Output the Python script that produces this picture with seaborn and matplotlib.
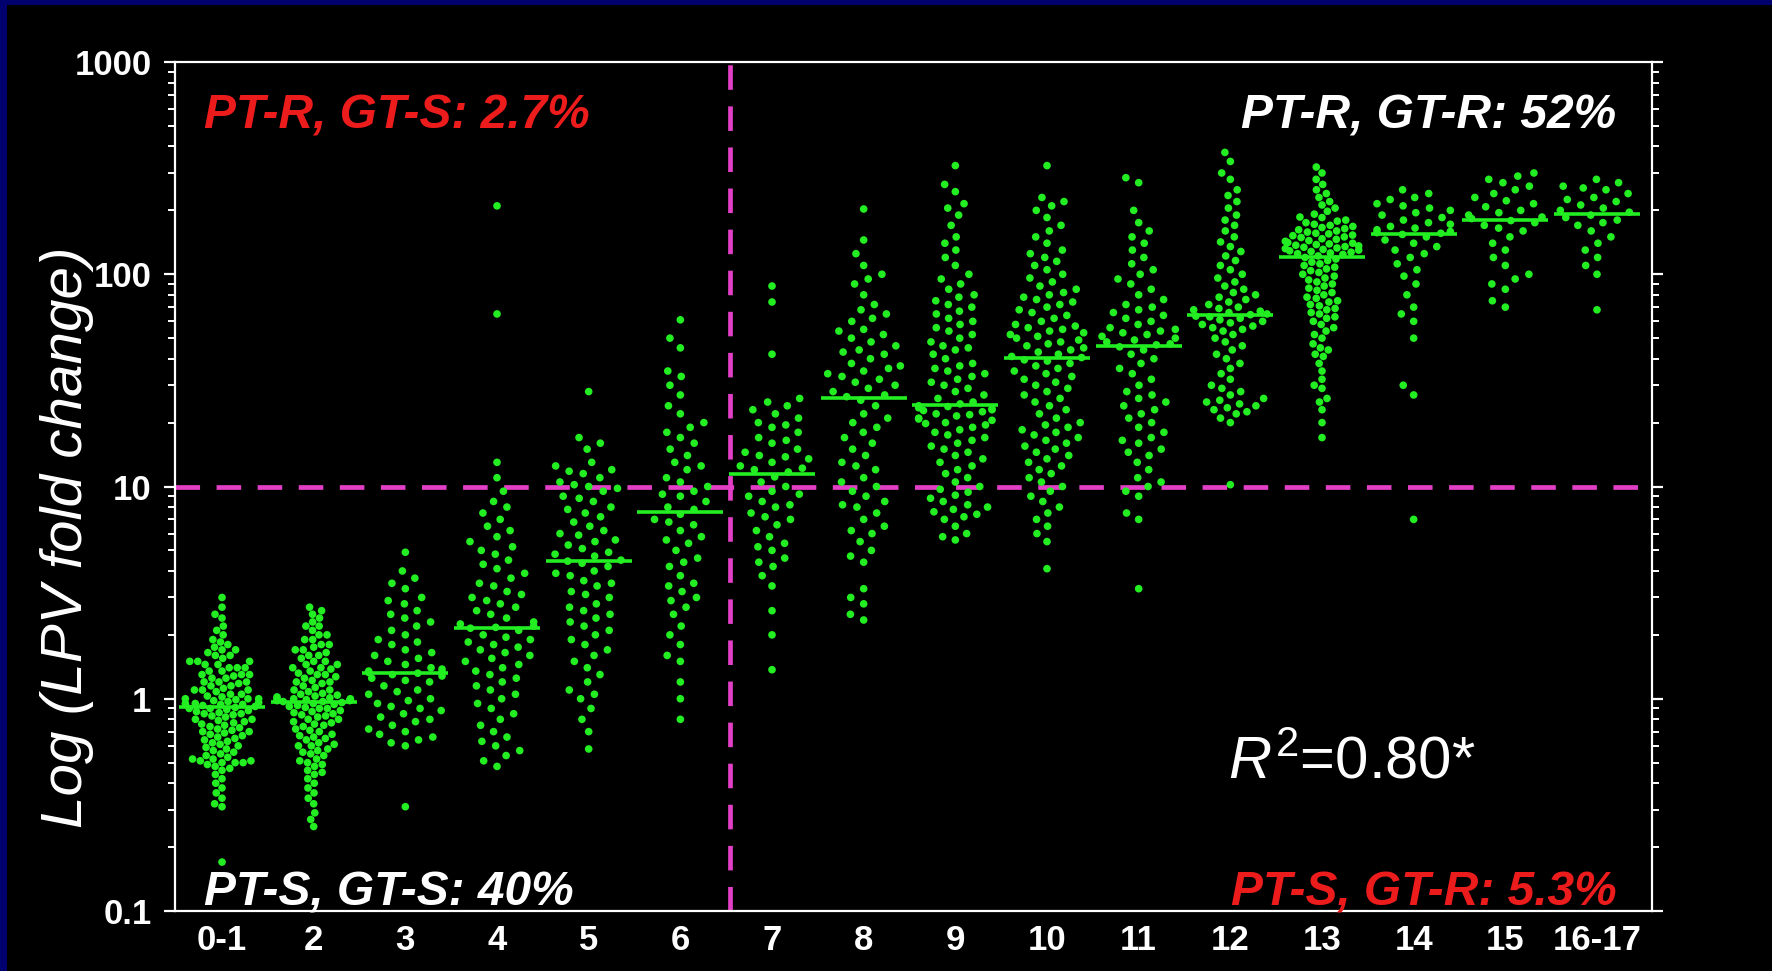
import numpy as np
import pandas as pd
import matplotlib
matplotlib.use("Agg")
import matplotlib.pyplot as plt
import seaborn as sns
from matplotlib.patches import Rectangle
from matplotlib.ticker import FixedLocator, LogLocator, NullFormatter

# ---------------- data ----------------
categories = ["0-1", "2", "3", "4", "5", "6", "7", "8", "9", "10",
              "11", "12", "13", "14", "15", "16-17"]

g01 = [3.0, 2.7, 2.5, 2.4, 2.2, 2.1, 2.0, 1.9, 1.85, 1.8, 1.75, 1.7, 1.7, 1.65, 1.6, 1.6,
       1.55, 1.5, 1.5, 1.5, 1.45, 1.45, 1.4, 1.4, 1.4, 1.35, 1.35, 1.3, 1.3, 1.3, 1.28,
       1.25, 1.25, 1.2, 1.2, 1.2, 1.18, 1.15, 1.15, 1.12, 1.1, 1.1, 1.1, 1.08, 1.05, 1.05,
       1.03, 1.02, 1.0, 1.0, 1.0, 0.99, 0.98, 0.97, 0.96, 0.95, 0.95, 0.94, 0.94,
       0.93, 0.92, 0.91, 0.9, 0.9, 0.89, 0.88, 0.87, 0.86, 0.85, 0.85, 0.84, 0.83, 0.82,
       0.8, 0.8, 0.79, 0.78, 0.77, 0.76, 0.75, 0.74, 0.73, 0.72, 0.71, 0.7, 0.7, 0.69,
       0.68, 0.67, 0.66, 0.65, 0.64, 0.63, 0.62, 0.61, 0.6, 0.59, 0.58, 0.57, 0.56, 0.55,
       0.54, 0.53, 0.52, 0.52, 0.51, 0.51, 0.5, 0.5, 0.5, 0.49, 0.48, 0.47, 0.46, 0.44,
       0.42, 0.4, 0.38, 0.36, 0.34, 0.32, 0.31, 0.17]
g2 = [2.7, 2.6, 2.5, 2.4, 2.3, 2.2, 2.2, 2.1, 2.0, 2.0, 1.9, 1.9, 1.8, 1.8, 1.75, 1.7,
      1.7, 1.65, 1.6, 1.6, 1.55, 1.5, 1.5, 1.45, 1.45, 1.4, 1.4, 1.38, 1.35, 1.32, 1.3,
      1.3, 1.27, 1.25, 1.22, 1.2, 1.2, 1.18, 1.15, 1.13, 1.1, 1.1, 1.08, 1.06, 1.05,
      1.04, 1.03, 1.02, 1.01, 1.0, 1.0, 1.0, 0.99, 0.99, 0.98, 0.98,
      0.97, 0.97, 0.96, 0.95, 0.94, 0.93, 0.92, 0.91, 0.9, 0.9, 0.88, 0.87, 0.86, 0.85,
      0.84, 0.83, 0.82, 0.8, 0.8, 0.78, 0.77, 0.76, 0.75, 0.74, 0.72, 0.71, 0.7, 0.68,
      0.67, 0.66, 0.65, 0.64, 0.62, 0.61, 0.6, 0.6, 0.58, 0.57, 0.56, 0.55, 0.54, 0.52,
      0.51, 0.5, 0.49, 0.48, 0.46, 0.45, 0.44, 0.42, 0.4, 0.38, 0.36, 0.34, 0.32, 0.29,
      0.27, 0.25]
g3 = [4.9, 4.0, 3.7, 3.5, 3.3, 3.0, 2.9, 2.8, 2.6, 2.5, 2.4, 2.3, 2.2, 2.1, 2.0, 1.9,
      1.85, 1.8, 1.7, 1.65, 1.6, 1.55, 1.5, 1.45, 1.4, 1.38, 1.35, 1.34, 1.33,
      1.32, 1.3, 1.28, 1.25, 1.22, 1.2, 1.15, 1.1, 1.08, 1.05, 1.0, 0.98, 0.95, 0.92,
      0.9, 0.88, 0.85, 0.82, 0.8, 0.78, 0.75, 0.72, 0.7, 0.68, 0.66, 0.64, 0.62, 0.6, 0.31]
g4 = [210, 65, 13, 11, 9.5, 8.5, 8.0, 7.5, 7.0, 6.5, 6.2, 5.8, 5.5, 5.2, 5.0, 4.8, 4.5,
      4.3, 4.1, 3.9, 3.7, 3.5, 3.4, 3.2, 3.1, 3.0, 2.9, 2.8, 2.7, 2.6, 2.5, 2.4, 2.3,
      2.25, 2.2, 2.17,
      2.15, 2.1, 2.0, 1.95, 1.9, 1.85, 1.8, 1.75, 1.7, 1.65, 1.6, 1.55, 1.5, 1.45, 1.4,
      1.35, 1.3, 1.25, 1.2, 1.15, 1.1, 1.05, 1.0, 0.95, 0.9, 0.85, 0.8, 0.75, 0.7, 0.66,
      0.63, 0.6, 0.57, 0.54, 0.51, 0.48]
g5 = [28, 17, 16, 15, 13, 12.5, 12, 11.8, 11.5, 11, 10.5, 10.2, 10, 9.8, 9.5, 9.0, 8.8,
      8.5, 8.0, 7.8, 7.5, 7.2, 6.8, 6.5, 6.2, 6.0, 5.9, 5.6, 5.5, 5.3, 5.1, 4.9, 4.8,
      4.7, 4.5, 4.45,
      4.35, 4.2, 4.0, 3.9, 3.8, 3.6, 3.5, 3.4, 3.2, 3.1, 3.0, 2.8, 2.7, 2.6, 2.5, 2.4,
      2.3, 2.2, 2.1, 2.0, 1.9, 1.8, 1.7, 1.6, 1.5, 1.4, 1.3, 1.2, 1.1, 1.05, 1.0, 0.9,
      0.8, 0.7, 0.58]
g6 = [61, 50, 45, 35, 33, 30, 27, 24, 22, 20, 19, 18, 17, 16, 15, 14, 13, 12.5, 12, 11,
      10.5, 10, 9.5, 9.2, 9.0, 8.5, 8.0, 7.8,
      7.4, 7.0, 6.8, 6.6, 6.2, 5.8, 5.6, 5.4, 5.0, 4.6, 4.4, 4.2, 3.8, 3.5, 3.4, 3.2,
      3.0, 2.9, 2.7, 2.5, 2.2, 2.0, 1.8, 1.6, 1.5, 1.2, 1.0, 0.8]
g7 = [88, 74, 42, 26, 25, 24, 23, 22, 21, 20, 19.5, 19, 18, 17, 16.5, 16, 15, 14.5, 14,
      13.8, 13.5, 13, 12.5, 12.2, 12, 11.7,
      11.1, 10.5, 10, 9.5, 9.2, 9, 8.5, 8.2, 8, 7.5, 7.2, 7, 6.6, 6.2, 5.8, 5.4, 5.2,
      5.0, 4.6, 4.4, 4.2, 3.8, 3.4, 2.6, 2.0, 1.37]
g8 = [203, 145, 125, 110, 100, 95, 90, 80, 72, 68, 65, 62, 60, 55, 54, 52, 50, 48, 46,
      44, 43, 42, 40, 38, 37, 36, 35, 34, 33, 32, 31, 30, 29, 28, 27, 26.5,
      25.5, 24, 22, 21, 20, 19, 18, 17, 16, 15, 14, 13, 12.5, 12, 11, 10.5, 10, 9.5, 9,
      8.5, 8.2, 8, 7.5, 7, 6.5, 6.2, 6, 5.5, 5, 4.7, 4.4, 3.3, 3.0, 2.8, 2.5, 2.35]
g9 = [325, 265, 245, 215, 205, 190, 170, 150, 140, 130, 120, 110, 100, 95, 90, 85, 80,
      78, 75, 72, 70, 67, 65, 62, 60, 58, 56, 54, 52, 50, 48, 46, 45, 44, 42, 40, 38, 37,
      36, 35, 34, 33, 32, 31, 30, 29, 28, 27, 26, 25, 24.5,
      24, 23.8, 23.5, 23.2, 23, 22.8, 22.5, 22, 21.8, 21.5, 21, 20.8, 20.5, 20, 19.8,
      19.5, 19, 18.5, 18, 17.5, 17, 16.5, 16, 15.5, 15, 14.5, 14, 13.5, 13, 12.5, 12,
      11.5, 11, 10.5, 10, 9.7, 9.4, 9.1, 8.8, 8.5, 8.2, 8.0, 7.8, 7.6, 7.4, 7.2, 7.0,
      6.5, 6.0, 5.8, 5.6]
g10 = [325, 230, 220, 210, 200, 185, 170, 160, 150, 140, 130, 125, 120, 115, 110, 105,
       100, 96, 92, 88, 85, 82, 80, 78, 76, 74, 72, 70, 68, 66, 64, 62, 60, 58, 57, 56,
       55, 54, 53, 52, 51, 50, 49, 48, 47, 46, 45, 44, 43, 42, 41, 40.5,
       39.5, 39, 38, 37, 36, 35, 34, 33, 32, 31, 30, 29, 28, 27, 26, 25, 24, 23, 22, 21,
       20, 19.5, 19, 18.5, 18, 17.5, 17, 16.5, 16, 15.5, 15, 14.5, 14, 13.5, 13, 12.5,
       12, 11.5, 11, 10.5, 10, 9.5, 9, 8.5, 8, 7.5, 7, 6.5, 6, 5.5, 4.1]
g11 = [285, 270, 200, 175, 160, 150, 140, 130, 120, 112, 105, 100, 95, 90, 85, 80, 76,
       72, 70, 68, 66, 64, 62, 60, 58, 56, 55, 54, 53, 52, 51, 50, 49, 48, 47, 46.5,
       45.5, 44, 42, 40, 38, 36, 34, 32, 30, 28, 27, 26, 25, 24, 23, 22, 21, 20, 19, 18,
       17, 16.5, 16, 15, 14.5, 14, 13, 12, 11, 10.5, 10, 9.5, 9, 7.5, 7.0, 3.3]
g12 = [375, 340, 300, 280, 250, 235, 220, 205, 190, 180, 170, 160, 150, 142, 135, 128,
       122, 116, 110, 105, 100, 96, 92, 88, 85, 82, 80, 78, 76, 74, 72, 70, 69, 68, 67,
       66, 65, 64.5,
       63.5, 63, 62, 61, 60, 59, 58, 57, 56, 55, 54, 52, 50, 48, 46, 44, 42, 40, 38, 36,
       34, 32, 30, 29, 28, 27, 26, 25.5, 25, 24.5, 24, 23.5, 23, 22.5, 22, 21, 20, 10.2]
g13 = [320, 300, 280, 265, 250, 240, 230, 220, 212, 205, 198, 192, 186, 185, 180, 178,
       175, 172, 170, 168, 166, 164, 162, 160, 158, 156, 155, 153, 152, 150, 149, 147,
       146, 144, 143, 141, 140, 139, 138, 137, 136, 135, 134, 133, 132, 131, 130, 129,
       128, 127, 126, 125, 124, 122,
       120, 118, 116, 114, 112, 110, 108, 106, 104, 102, 100, 98, 96, 94, 92, 90, 88,
       86, 84, 82, 80, 78, 77, 75, 74, 72, 71, 69, 68, 66, 65, 63, 62, 60, 58, 56, 54,
       52, 50, 47, 45, 44, 42, 41, 38, 35, 32, 30, 29, 26, 25, 23, 20, 17]
g14 = [250, 240, 230, 225, 215, 210, 205, 200, 195, 190, 185, 180, 175, 172, 168, 165,
       162, 159, 157, 156,
       154, 150, 145, 140, 135, 130, 125, 120, 112, 105, 98, 90, 80, 70, 65, 60, 50, 30,
       27, 7]
g15 = [300, 290, 280, 270, 260, 250, 240, 230, 222, 215, 208, 200, 195, 190, 186, 183,
       179, 175, 170, 165, 160, 150, 140, 130, 120, 110, 100, 95, 90, 85, 75, 70]
g1617 = [280, 270, 260, 255, 250, 240, 230, 225, 220, 212, 205, 200, 196,
         190, 185, 180, 175, 170, 160, 150, 140, 130, 120, 110, 100, 68]

series = [g01, g2, g3, g4, g5, g6, g7, g8, g9, g10, g11, g12, g13, g14, g15, g1617]

y_ticks = [0.1, 1, 10, 100, 1000]
y_tick_labels = ["0.1", "1", "10", "100", "1000"]
cutoff_value = 10
quadrant_texts = ["PT-R, GT-S: 2.7%", "PT-R, GT-R: 52%", "PT-S, GT-S: 40%", "PT-S, GT-R: 5.3%"]
r2_text = r"$R^{2}$=0.80*"
y_label = "Log (LPV fold change)"

# ---------------- styling ----------------
GREEN = "#22ee22"
PINK = "#e23fc6"
RED = "#ec1c1c"
NAVY = "#00006e"
DOT = 5.5
# invisible edge width per category: sets the spacing between dots in the swarm
spacing = [0, 0, 4.5, 4.5, 4.5, 4.5, 4.5, 4.5, 3.5, 3.5, 4.0, 2.0, 0.3, 4.5, 4.5, 4.5]

sns.set_theme(style="ticks")
plt.rcParams["font.family"] = ["Liberation Sans", "DejaVu Sans"]
plt.rcParams["mathtext.fontset"] = "custom"
plt.rcParams["mathtext.rm"] = "Liberation Sans"
plt.rcParams["mathtext.it"] = "Liberation Sans:italic"

W, H = 1772, 971
fig = plt.figure(figsize=(W / 100, H / 100), dpi=100, facecolor=NAVY)
fig.patches.append(Rectangle((7 / W, 0), 1, 1 - 5 / H, transform=fig.transFigure,
                             facecolor="black", edgecolor="none", zorder=-10))

L, R, T, B = 175, 1652, 62, 911
ax = fig.add_axes([L / W, (H - B) / H, (R - L) / W, (B - T) / H])
ax.set_zorder(1)
ax.set_facecolor("black")
ax.set_yscale("log")

for cat, vals, sp in zip(categories, series, spacing):
    d = pd.DataFrame({"group": [cat] * len(vals), "value": vals})
    sns.swarmplot(data=d, x="group", y="value", order=categories, color=GREEN,
                  size=DOT, linewidth=sp, edgecolor="none", ax=ax,
                  warn_thresh=1, zorder=3)

for i, vals in enumerate(series):
    ax.hlines(np.median(vals), i - 0.47, i + 0.47, color=GREEN, lw=2.6, zorder=4)

ax.axhline(cutoff_value, color=PINK, lw=3.4, dashes=(5.2, 3.5), zorder=2)
ax.axvline(5.54, color=PINK, lw=3.4, dashes=(5.2, 3.5), zorder=2)

ax.set_ylim(0.1, 1000)
ax.set_xlim(-0.513, 15.6)
ax.yaxis.set_major_locator(FixedLocator(y_ticks))
ax.set_yticklabels(y_tick_labels)
ax.yaxis.set_minor_locator(LogLocator(base=10, subs=np.arange(2, 10)))
ax.yaxis.set_minor_formatter(NullFormatter())

for s in ax.spines.values():
    s.set_color("white")
    s.set_linewidth(1.6)
    s.set_visible(True)

ax.tick_params(axis="y", which="major", length=8, width=1.6, color="white",
               direction="out", left=True, right=True, labelleft=True,
               labelright=False, labelsize=25, labelcolor="white", pad=9)
ax.tick_params(axis="y", which="minor", length=5, width=1.4, color="white",
               direction="out", left=True, right=True)
ax.tick_params(axis="x", length=0, labelsize=25, labelcolor="white", pad=9)
for lab in ax.get_xticklabels() + ax.get_yticklabels():
    lab.set_fontweight("bold")

ax.set_xlabel("")
ax.set_ylabel(y_label, fontsize=42, style="italic", color="white")
ax.yaxis.set_label_coords(-0.055, 0.44)

tf = dict(fontsize=34.5, fontweight="bold", style="italic", transform=ax.transAxes,
          va="baseline")
ax.text((204 - L) / (R - L), (B - 128) / (B - T), quadrant_texts[0], color=RED, ha="left", **tf)
ax.text((1616 - L) / (R - L), (B - 128) / (B - T), quadrant_texts[1], color="white", ha="right", **tf)
ax.text((204 - L) / (R - L), (B - 905) / (B - T), quadrant_texts[2], color="white", ha="left", **tf)
ax.text((1617 - L) / (R - L), (B - 905) / (B - T), quadrant_texts[3], color=RED, ha="right", **tf)

ax.text((1228 - L) / (R - L), (B - 778) / (B - T), r2_text, color="white", fontsize=43,
        ha="left", va="baseline", transform=ax.transAxes)

fig.savefig("out.png", dpi=100, facecolor=NAVY)
